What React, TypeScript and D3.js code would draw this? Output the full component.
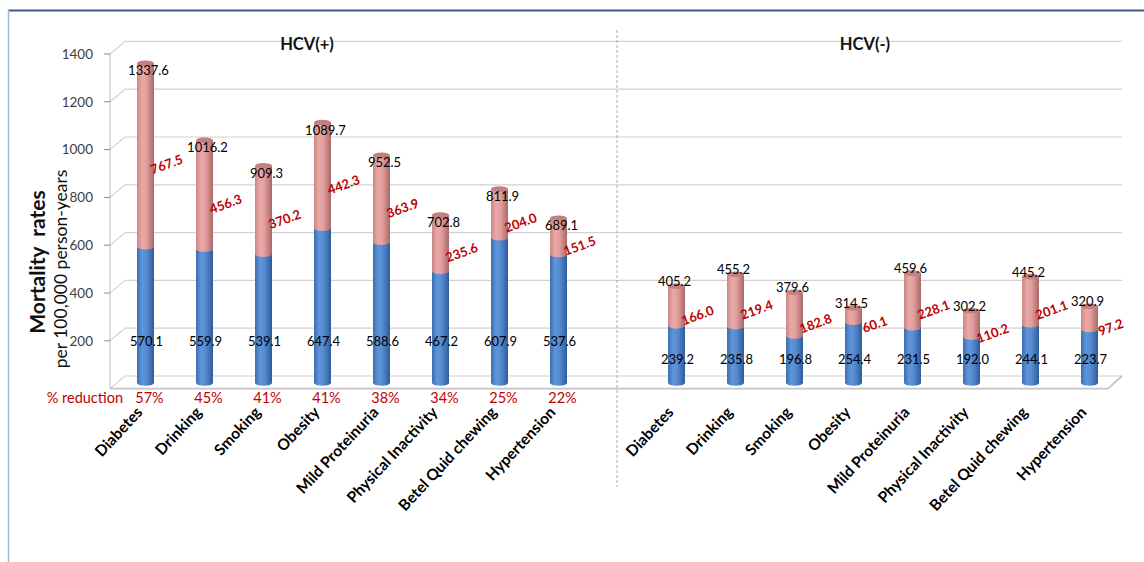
import React from "react";
import * as d3 from "d3";

// Risk factors shown in both panels
const categories = [
  "Diabetes",
  "Drinking",
  "Smoking",
  "Obesity",
  "Mild Proteinuria",
  "Physical Inactivity",
  "Betel Quid chewing",
  "Hypertension",
];

// HCV(+): mortality after removing the factor (blue) and excess attributable to it (pink)
const hcvPosBase = [570.1, 559.9, 539.1, 647.4, 588.6, 467.2, 607.9, 537.6];
const hcvPosReduction = [767.5, 456.3, 370.2, 442.3, 363.9, 235.6, 204.0, 151.5];
const hcvPosPercent = ["57%", "45%", "41%", "41%", "38%", "34%", "25%", "22%"];

// HCV(-)
const hcvNegBase = [239.2, 235.8, 196.8, 254.4, 231.5, 192.0, 244.1, 223.7];
const hcvNegReduction = [166.0, 219.4, 182.8, 60.1, 228.1, 110.2, 201.1, 97.2];

const yTicks = [200, 400, 600, 800, 1000, 1200, 1400];
const panelTitles = ["HCV(+)", "HCV(-)"];

const W = 1144;
const H = 562;
const FONT = "Lato, 'Open Sans', sans-serif";

// 17 slots: 8 bars, a divider slot, 8 bars
const x = d3.scalePoint<number>().domain(d3.range(17)).range([145.5, 1089.5]);
const y = d3.scaleLinear().domain([0, 1400]).range([383, 48.4]);
// 3D depth offsets: front axis sits lower-left, back wall upper-right
const FRONT_DY = 5.6;
const BACK_DY = -7;
const BACK_X0 = 125;
const FRONT_X0 = 110;
const BACK_X1 = 1122;
const FRONT_X1 = 1108;

const BAR_W = 17;
const RY = 2.8;

type Panel = {
  slots: number[];
  base: number[];
  reduction: number[];
  topDx: number;
  topDy: number;
  baseLift: number;
};

const panels: Panel[] = [
  { slots: d3.range(0, 8), base: hcvPosBase, reduction: hcvPosReduction, topDx: 3, topDy: 7, baseLift: 42 },
  { slots: d3.range(9, 17), base: hcvNegBase, reduction: hcvNegReduction, topDx: -2, topDy: -5, baseLift: 24 },
];

function Cylinder({ cx, base, reduction }: { cx: number; base: number; reduction: number }) {
  const total = base + reduction;
  const x0 = cx - BAR_W / 2;
  const y0 = y(0);
  const yb = y(base);
  const yt = y(total);
  return (
    <g>
      <ellipse cx={cx} cy={y0} rx={BAR_W / 2} ry={RY} fill="url(#gBlue)" />
      <rect x={x0} y={yb} width={BAR_W} height={y0 - yb} fill="url(#gBlue)" />
      <rect x={x0} y={yt} width={BAR_W} height={yb - yt} fill="url(#gPink)" />
      <ellipse cx={cx} cy={yb} rx={BAR_W / 2} ry={RY} fill="url(#gPink)" />
      <ellipse cx={cx} cy={yt} rx={BAR_W / 2} ry={RY} fill="#c0817f" />
    </g>
  );
}

export default function App() {
  const yFront = (v: number) => y(v) + FRONT_DY;
  const yBack = (v: number) => y(v) + BACK_DY;

  return (
    <svg
      width={W}
      height={H}
      style={{ position: "absolute", left: 0, top: 0, background: "#fff" }}
      fontFamily={FONT}
    >
      <defs>
        <linearGradient id="gBlue" x1="0" x2="1" y1="0" y2="0">
          <stop offset="0" stopColor="#3c6db0" />
          <stop offset="0.3" stopColor="#5f95db" />
          <stop offset="0.55" stopColor="#568cd3" />
          <stop offset="1" stopColor="#2f5c99" />
        </linearGradient>
        <linearGradient id="gPink" x1="0" x2="1" y1="0" y2="0">
          <stop offset="0" stopColor="#c98886" />
          <stop offset="0.3" stopColor="#eaa8a6" />
          <stop offset="0.55" stopColor="#e39f9d" />
          <stop offset="1" stopColor="#a8696a" />
        </linearGradient>
      </defs>

      {/* frame */}
      <line x1={8} x2={W} y1={10.5} y2={10.5} stroke="#3e5c8a" strokeWidth={2} />
      <line x1={8.5} x2={8.5} y1={10} y2={H} stroke="#a3b6d2" strokeWidth={1.5} />

      {/* back-wall gridlines and side-wall diagonals */}
      {[0, ...yTicks].map((v) => (
        <g key={v} stroke="#d2d2d2" strokeWidth={1.2} fill="none">
          <line x1={BACK_X0} x2={BACK_X1} y1={yBack(v)} y2={yBack(v)} />
          <line x1={FRONT_X0} x2={BACK_X0} y1={yFront(v)} y2={yBack(v)} />
        </g>
      ))}

      {/* floor */}
      <path
        d={`M${FRONT_X0},${yFront(0)} L${FRONT_X1},${yFront(0)} L${BACK_X1},${yBack(0)}`}
        fill="none"
        stroke="#c4c4c4"
        strokeWidth={1.8}
      />

      {/* y axis */}
      <line x1={FRONT_X0} x2={FRONT_X0} y1={yFront(1400)} y2={yFront(0)} stroke="#bfbfbf" />
      {yTicks.map((v) => (
        <g key={v}>
          <line x1={FRONT_X0 - 6} x2={FRONT_X0} y1={yFront(v)} y2={yFront(v)} stroke="#8c8c8c" />
          <text x={93} y={yFront(v)} dy="0.35em" textAnchor="end" fontSize={13.5} fill="#404040">
            {v}
          </text>
        </g>
      ))}

      {/* y axis title */}
      <text
        transform="translate(36,262) rotate(-90)"
        textAnchor="middle"
        dominantBaseline="central"
        fontSize={21}
        fontWeight="bold"
        fill="#111"
        style={{ whiteSpace: "pre" }}
      >
        {"Mortality  rates"}
      </text>
      <text
        transform="translate(60,269) rotate(-90)"
        textAnchor="middle"
        dominantBaseline="central"
        fontSize={17.5}
        fill="#111"
      >
        per 100,000 person-years
      </text>

      {/* panel divider */}
      <line x1={x(8)! - 0.5} x2={x(8)! - 0.5} y1={30} y2={487} stroke="#a8a8a8" strokeDasharray="3,2" />

      {/* panel titles */}
      <text x={307} y={44} textAnchor="middle" dominantBaseline="central" fontSize={16.5} fontWeight="bold" fill="#111">
        {panelTitles[0]}
      </text>
      <text x={865} y={44} textAnchor="middle" dominantBaseline="central" fontSize={16.5} fontWeight="bold" fill="#111">
        {panelTitles[1]}
      </text>

      {/* bars and labels */}
      {panels.map((p, pi) => (
        <g key={pi}>
          {p.slots.map((s, i) => {
            const cx = x(s)!;
            const b = p.base[i];
            const r = p.reduction[i];
            const total = b + r;
            return (
              <g key={s}>
                <Cylinder cx={cx} base={b} reduction={r} />
                <text
                  x={cx + p.topDx}
                  y={y(total) + p.topDy}
                  textAnchor="middle"
                  dominantBaseline="central"
                  fontSize={13}
                  fill="#000"
                >
                  {total.toFixed(1)}
                </text>
                <text
                  x={cx + 1}
                  y={y(0) - p.baseLift}
                  textAnchor="middle"
                  dominantBaseline="central"
                  fontSize={13}
                  fill="#000"
                >
                  {b.toFixed(1)}
                </text>
                <text
                  transform={`translate(${cx + 21},${y(b + r / 2) + 9}) rotate(-20)`}
                  textAnchor="middle"
                  dominantBaseline="central"
                  fontSize={13}
                  fontWeight="bold"
                  fill="#c00000"
                >
                  {r.toFixed(1)}
                </text>
                <text
                  transform={`translate(${cx - 2},${413}) rotate(-47)`}
                  textAnchor="end"
                  fontSize={15.5}
                  fontWeight="bold"
                  fill="#000"
                >
                  {categories[i]}
                </text>
              </g>
            );
          })}
        </g>
      ))}

      {/* percent reduction row */}
      <text x={123} y={397} textAnchor="end" dominantBaseline="central" fontSize={14.5} fill="#c00000">
        % reduction
      </text>
      {hcvPosPercent.map((t, i) => (
        <text
          key={i}
          x={x(i)! + 4}
          y={397}
          textAnchor="middle"
          dominantBaseline="central"
          fontSize={14.5}
          fill="#c00000"
        >
          {t}
        </text>
      ))}
    </svg>
  );
}
